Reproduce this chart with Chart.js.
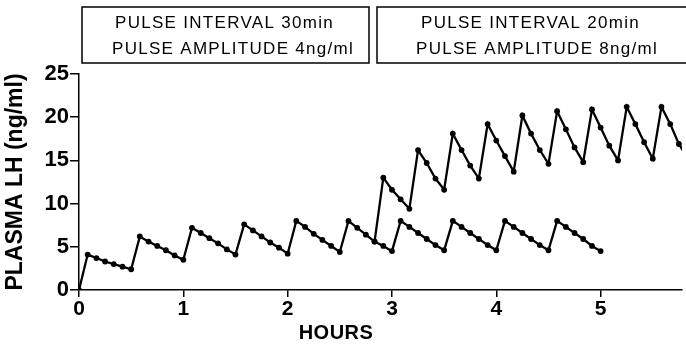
<!DOCTYPE html>
<html>
<head>
<meta charset="utf-8">
<script src="https://cdn.jsdelivr.net/npm/chart.js@4"></script>
<style>
  body { margin: 0; background: #fff; }
  #wrap { width: 686px; height: 353px; position: relative; }
</style>
</head>
<body>
<div id="wrap"><canvas id="myChart"></canvas></div>
<script>
// 30 min pulses, 4 ng/ml amplitude (sampled every 5 min)
const aHours = [
  0, 0.083, 0.167, 0.25, 0.333, 0.417, 0.5,
  0.583, 0.667, 0.75, 0.833, 0.917, 1.0,
  1.083, 1.167, 1.25, 1.333, 1.417, 1.5,
  1.583, 1.667, 1.75, 1.833, 1.917, 2.0,
  2.083, 2.167, 2.25, 2.333, 2.417, 2.5,
  2.583, 2.667, 2.75, 2.833, 2.917, 3.0,
  3.083, 3.167, 3.25, 3.333, 3.417, 3.5,
  3.583, 3.667, 3.75, 3.833, 3.917, 4.0,
  4.083, 4.167, 4.25, 4.333, 4.417, 4.5,
  4.583, 4.667, 4.75, 4.833, 4.917, 5.0,
];
const aLH = [
  0, 4.1, 3.7, 3.3, 3.0, 2.7, 2.4,
  6.2, 5.6, 5.1, 4.6, 4.0, 3.5,
  7.2, 6.6, 6.0, 5.4, 4.7, 4.1,
  7.6, 6.9, 6.2, 5.5, 4.9, 4.2,
  8.0, 7.3, 6.5, 5.8, 5.1, 4.4,
  8.0, 7.2, 6.4, 5.6, 5.1, 4.5,
  8.0, 7.3, 6.6, 5.9, 5.2, 4.6,
  8.0, 7.3, 6.6, 5.9, 5.2, 4.6,
  8.0, 7.3, 6.6, 5.9, 5.2, 4.6,
  8.0, 7.3, 6.6, 5.9, 5.1, 4.5,
];

// 20 min pulses, 8 ng/ml amplitude
const bHours = [
  2.833, 2.917, 3.0, 3.083, 3.167,
  3.25, 3.333, 3.417, 3.5,
  3.583, 3.667, 3.75, 3.833,
  3.917, 4.0, 4.083, 4.167,
  4.25, 4.333, 4.417, 4.5,
  4.583, 4.667, 4.75, 4.833,
  4.917, 5.0, 5.083, 5.167,
  5.25, 5.333, 5.417, 5.5,
  5.583, 5.667, 5.75, 5.833,
];
const bLH = [
  5.6, 13.0, 11.6, 10.5, 9.4,
  16.2, 14.7, 12.9, 11.6,
  18.1, 16.2, 14.4, 12.9,
  19.2, 17.3, 15.5, 13.7,
  20.2, 18.1, 16.2, 14.6,
  20.7, 18.6, 16.5, 14.8,
  20.9, 18.8, 16.7, 15.0,
  21.2, 19.2, 17.1, 15.2,
  21.2, 19.2, 16.9, 15.3,
];

const yTicks = [0, 5, 10, 15, 20, 25];
const xTicks = [0, 1, 2, 3, 4, 5];
const boxLines = [
  ["PULSE INTERVAL 30min", "PULSE AMPLITUDE 4ng/ml"],
  ["PULSE INTERVAL 20min", "PULSE AMPLITUDE 8ng/ml"],
];

const FONT = "'Liberation Sans', Arial, sans-serif";

// boxes on top + the HOURS label
const extras = {
  id: "extras",
  afterDraw(chart) {
    const c = chart.ctx;
    c.save();
    c.strokeStyle = "#000";
    c.lineWidth = 1.5;
    c.strokeRect(82, 7, 287, 56);
    c.strokeRect(377, 7, 320, 56);

    c.fillStyle = "#000";
    c.font = "17px " + FONT;
    c.letterSpacing = "1.3px";
    c.textBaseline = "middle";
    c.textAlign = "left";
    c.fillText(boxLines[0][0], 115, 23);
    c.fillText(boxLines[0][1], 112, 49);
    c.fillText(boxLines[1][0], 421, 23);
    c.fillText(boxLines[1][1], 416, 49);

    c.letterSpacing = "0.5px";
    c.font = "bold 20px " + FONT;
    c.textAlign = "center";
    c.fillText("HOURS", 336, 333);
    c.restore();
  },
};

const ctx = document.getElementById("myChart");

new Chart(ctx, {
  type: "line",
  data: {
    datasets: [
      {
        label: "30 min",
        data: aHours.map((h, i) => ({ x: h, y: aLH[i] })),
        borderColor: "#000",
        backgroundColor: "#000",
        borderWidth: 2.3,
        pointRadius: 2.9,
        pointBorderWidth: 0,
        tension: 0,
      },
      {
        label: "20 min",
        data: bHours.map((h, i) => ({ x: h, y: bLH[i] })),
        borderColor: "#000",
        backgroundColor: "#000",
        borderWidth: 2.3,
        pointRadius: 2.9,
        pointBorderWidth: 0,
        tension: 0,
      },
    ],
  },
  options: {
    responsive: true,
    maintainAspectRatio: false,
    animation: false,
    layout: { padding: { top: 74, right: 0, left: 0, bottom: 0 } },
    plugins: {
      legend: { display: false },
      tooltip: { enabled: false },
    },
    scales: {
      x: {
        type: "linear",
        min: 0,
        max: 5.78,
        afterFit: (s) => { s.height = 63; },
        afterBuildTicks: (s) => { s.ticks = xTicks.map((v) => ({ value: v })); },
        ticks: {
          color: "#000",
          font: { family: FONT, size: 21, weight: "bold" },
          padding: 0,
          maxRotation: 0,
        },
        grid: {
          drawOnChartArea: false,
          color: "#000",
          lineWidth: 1.5,
          tickLength: 7,
        },
        border: { color: "#000", width: 1.5 },
      },
      y: {
        min: 0,
        max: 25,
        afterFit: (s) => { s.width = 79; },
        afterBuildTicks: (s) => { s.ticks = yTicks.map((v) => ({ value: v })); },
        ticks: {
          color: "#000",
          font: { family: FONT, size: 22, weight: "bold" },
          padding: 1,
        },
        grid: {
          drawOnChartArea: false,
          color: "#000",
          lineWidth: 1.5,
          tickLength: 9,
        },
        border: { color: "#000", width: 1.5 },
        title: {
          display: true,
          text: "PLASMA LH (ng/ml)",
          color: "#000",
          font: { family: FONT, size: 23, weight: "bold" },
          padding: { top: 2, bottom: 0 },
        },
      },
    },
  },
  plugins: [extras],
});
</script>
</body>
</html>
